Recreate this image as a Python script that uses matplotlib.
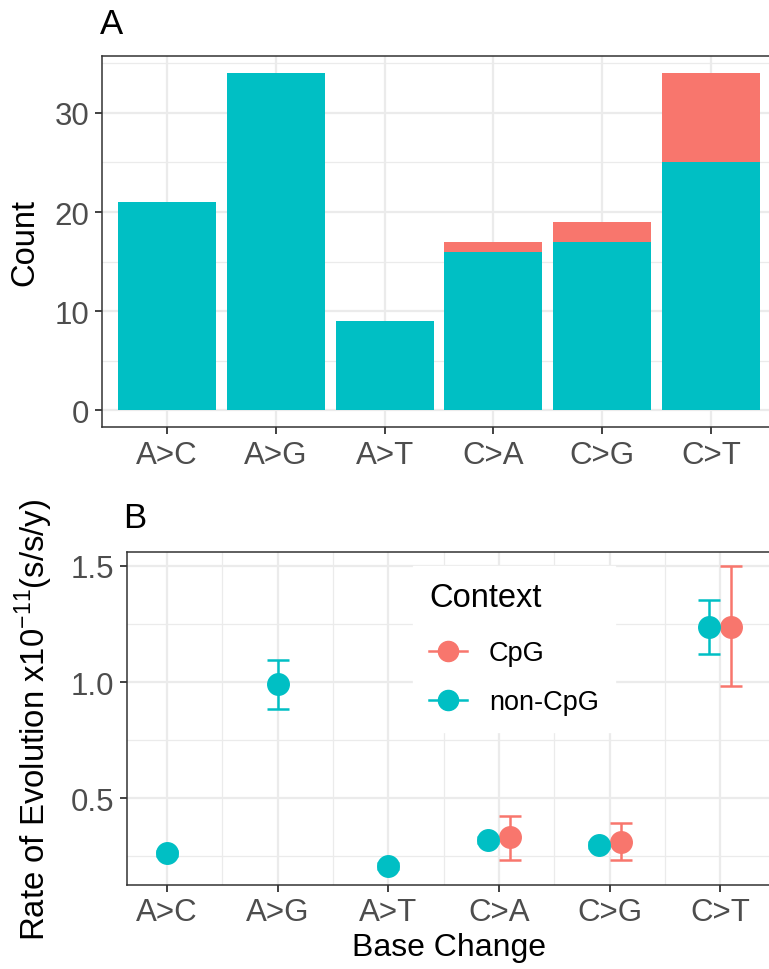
import numpy as np
import matplotlib
matplotlib.use("Agg")
import matplotlib.pyplot as plt
from matplotlib.lines import Line2D
from matplotlib.ticker import FixedLocator

plt.rcParams['font.family'] = ['Liberation Sans', 'DejaVu Sans']
plt.rcParams['mathtext.fontset'] = 'custom'
plt.rcParams['mathtext.rm'] = 'Liberation Sans'

# data
categories = ['A>C', 'A>G', 'A>T', 'C>A', 'C>G', 'C>T']
count_noncpg = [21, 34, 9, 16, 17, 25]
count_cpg = [0, 0, 0, 1, 2, 9]

rate_noncpg = [0.263, 0.990, 0.210, 0.322, 0.300, 1.238]
noncpg_lo = [0.251, 0.884, 0.198, 0.309, 0.287, 1.120]
noncpg_hi = [0.275, 1.094, 0.222, 0.335, 0.313, 1.352]

cpg_cats = ['C>A', 'C>G', 'C>T']
rate_cpg = [0.334, 0.314, 1.238]
cpg_lo = [0.236, 0.235, 0.983]
cpg_hi = [0.423, 0.394, 1.497]

teal = '#00BFC4'
salmon = '#F8766D'
grid_c = '#EBEBEB'
tick_c = '#4D4D4D'

W, H = 769, 970
fig = plt.figure(figsize=(W / 100, H / 100), dpi=100)


def style_axes(ax):
    for s in ax.spines.values():
        s.set_color('#333333')
        s.set_linewidth(1.1)
    ax.tick_params(axis='both', direction='out', length=5, width=1.3,
                   color='#333333', labelcolor=tick_c, labelsize=22.5, pad=4)
    ax.grid(True, which='major', color=grid_c, linewidth=1.6)
    ax.grid(True, which='minor', color=grid_c, linewidth=0.9)
    ax.tick_params(which='minor', length=0)
    ax.set_axisbelow(True)


# panel A
axA = fig.add_axes([101.7 / W, 1 - 428.3 / H, (776.3 - 101.7) / W, (428.3 - 57.3) / H])
style_axes(axA)
x = np.arange(1, len(categories) + 1)
axA.bar(x, count_noncpg, width=0.9, color=teal, zorder=2)
axA.bar(x, count_cpg, width=0.9, bottom=count_noncpg, color=salmon, zorder=2)
axA.set_xlim(0.4, 6.6)
axA.set_ylim(-1.7, 35.7)
axA.set_xticks(x)
axA.set_xticklabels(categories)
axA.yaxis.set_major_locator(FixedLocator([0, 10, 20, 30]))
axA.yaxis.set_minor_locator(FixedLocator([5, 15, 25, 35]))
axA.set_ylabel('Count', fontsize=23.5, labelpad=10)
fig.text(100 / W, 1 - 34 / H, 'A', fontsize=25, ha='left', va='baseline')

# panel B
axB = fig.add_axes([126.7 / W, 1 - 886 / H, (771.7 - 126.7) / W, (886 - 553.3) / H])
style_axes(axB)
xB = {c: i + 1 for i, c in enumerate(categories)}
dodge = 0.1
xn = [xB[c] - dodge if c in cpg_cats else xB[c] for c in categories]
xc = [xB[c] + dodge for c in cpg_cats]

err_n = [np.array(rate_noncpg) - np.array(noncpg_lo), np.array(noncpg_hi) - np.array(rate_noncpg)]
err_c = [np.array(rate_cpg) - np.array(cpg_lo), np.array(cpg_hi) - np.array(rate_cpg)]

axB.errorbar(xc, rate_cpg, yerr=err_c, fmt='o', color=salmon, ms=15.5,
             elinewidth=1.8, capsize=8.2, capthick=1.8, zorder=3)
axB.errorbar(xn, rate_noncpg, yerr=err_n, fmt='o', color=teal, ms=15.5,
             elinewidth=1.8, capsize=8.2, capthick=1.8, zorder=3)

axB.set_xlim(0.635, 6.465)
axB.set_ylim(0.1273, 1.5576)
axB.set_xticks(list(xB.values()))
axB.set_xticklabels(categories)
axB.xaxis.set_minor_locator(FixedLocator([1.5, 2.5, 3.5, 4.5, 5.5]))
axB.yaxis.set_major_locator(FixedLocator([0.5, 1.0, 1.5]))
axB.yaxis.set_minor_locator(FixedLocator([0.25, 0.75, 1.25]))
axB.set_yticklabels(['0.5', '1.0', '1.5'])
axB.set_xlabel('Base Change', fontsize=23, labelpad=3)
axB.set_ylabel(r'Rate of Evolution x10$^{\mathregular{-11}}$(s/s/y)', fontsize=23.7, labelpad=11)
fig.text(123 / W, 1 - 528 / H, 'B', fontsize=25, ha='left', va='baseline')

handles = [Line2D([], [], color=salmon, marker='o', ms=14.5, lw=1.8),
           Line2D([], [], color=teal, marker='o', ms=14.5, lw=1.8)]
leg = axB.legend(handles, ['CpG', 'non-CpG'], title='Context', loc='upper left',
                 bbox_to_anchor=(0.444, 0.959), borderaxespad=0, fontsize=19.5,
                 title_fontsize=23.5, frameon=True, fancybox=False, framealpha=1,
                 edgecolor='white', facecolor='white', handlelength=1.4,
                 handletextpad=0.8, labelspacing=0.85, borderpad=0.6,
                 alignment='left')
# a bit more room between the title and the entries
leg._legend_box.sep = 19.5

fig.savefig('out.png', dpi=100)
